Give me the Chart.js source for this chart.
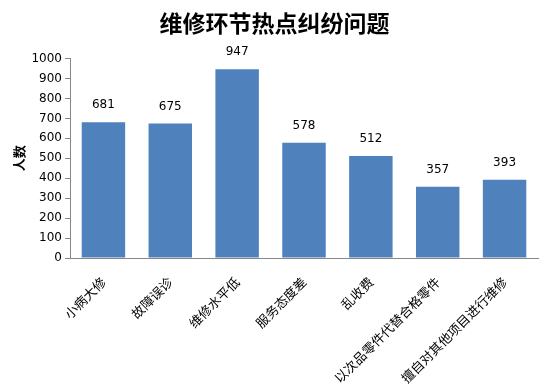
<!DOCTYPE html>
<html>
<head>
<meta charset="utf-8">
<script src="https://cdn.jsdelivr.net/npm/chart.js@4"></script>
<style>
    html, body { margin: 0; padding: 0; background: #fff; }
    #wrap { width: 549px; height: 392px; position: relative; }
</style>
</head>
<body>
<div id="wrap"><canvas id="chart"></canvas></div>
<script>
const categories = ['小病大修', '故障误诊', '维修水平低', '服务态度差', '乱收费', '以次品零件代替合格零件', '擅自对其他项目进行维修'];
const counts = [681, 675, 947, 578, 512, 357, 393];
const yTicks = [0, 100, 200, 300, 400, 500, 600, 700, 800, 900, 1000];

const valueLabels = {
    id: 'valueLabels',
    afterDatasetsDraw: function (chart) {
        const ctx = chart.ctx;
        const meta = chart.getDatasetMeta(0);
        ctx.save();
        ctx.font = '12px "DejaVu Sans", sans-serif';
        ctx.fillStyle = '#000';
        ctx.textAlign = 'center';
        ctx.textBaseline = 'middle';
        meta.data.forEach(function (bar, i) {
            ctx.fillText(counts[i], bar.x, bar.y - 17);
        });
        ctx.restore();
    }
};

new Chart(document.getElementById('chart'), {
    type: 'bar',
    data: {
        labels: categories,
        datasets: [{
            label: '人数',
            data: counts,
            backgroundColor: '#4F81BD',
            categoryPercentage: 1,
            barPercentage: 0.65
        }]
    },
    options: {
        responsive: true,
        maintainAspectRatio: false,
        animation: false,
        layout: { padding: { left: 11, right: 11, top: 0, bottom: 0 } },
        plugins: {
            legend: { display: false },
            tooltip: { enabled: false },
            title: {
                display: true,
                text: '维修环节热点纠纷问题',
                color: '#000',
                font: { family: '"Noto Sans CJK SC"', size: 23, weight: 'bold' },
                padding: { top: 9, bottom: 22 }
            }
        },
        scales: {
            x: {
                grid: { display: false },
                border: { display: true, color: '#888' },
                afterFit: function (scale) { scale.height = 134; },
                ticks: {
                    color: '#000',
                    minRotation: 45,
                    maxRotation: 45,
                    autoSkip: false,
                    padding: 8,
                    font: { family: '"Noto Sans CJK SC"', size: 13 }
                }
            },
            y: {
                min: 0,
                max: 1000,
                afterBuildTicks: function (axis) {
                    axis.ticks = yTicks.map(function (v) { return { value: v }; });
                },
                afterFit: function (scale) { scale.width = 59; },
                grid: { drawOnChartArea: false, drawTicks: true, tickLength: 5, color: '#888' },
                border: { display: true, color: '#888' },
                ticks: {
                    color: '#000',
                    padding: 3,
                    font: { family: '"DejaVu Sans"', size: 12 },
                    callback: function (v) { return String(v); }
                },
                title: {
                    display: true,
                    text: '人数',
                    color: '#000',
                    font: { family: '"Noto Sans CJK SC"', size: 13, weight: 'bold' },
                    padding: { top: 0, bottom: 0 }
                }
            }
        }
    },
    plugins: [valueLabels]
});
</script>
</body>
</html>
